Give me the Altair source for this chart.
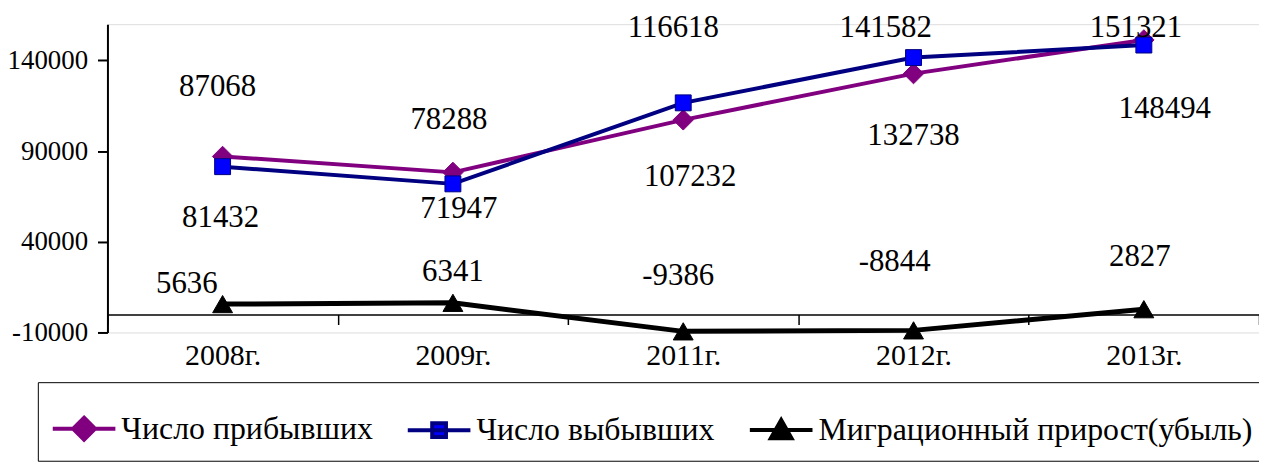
import altair as alt
import pandas as pd

# ---------------- data ----------------
years = ["2008г.", "2009г.", "2011г.", "2012г.", "2013г."]
arrived = [87068, 78288, 107232, 132738, 151321]
departed = [81432, 71947, 116618, 141582, 148494]
migration = [5636, 6341, -9386, -8844, 2827]
series_names = ["Число прибывших", "Число выбывших", "Миграционный прирост(убыль)"]
y_ticks = [-10000, 40000, 90000, 140000]

# ---------------- layout / style ----------------
line_colors = ["#800080", "#000080", "#000000"]
fill_colors = ["#800080", "#0000FF", "#000000"]
shapes = ["diamond", "square", "triangle-up"]
marker_sizes = [420, 256, 400]
line_widths = [4, 4, 5]
# data-label offsets in pixels (dx, dy) per series / year
label_dx = [[-5, -4, 7, 0, -8], [-2, 6, -10, -28, 21], [-36, 0, -5, -19, -4]]
label_dy = [[-70, -53, 57, 63, -12], [52, 25, -75, -30, 64], [-20, -31, -56, -69, -52]]
legend_paths = [
    "M-1,0L1,0M0,-0.35L0.35,0L0,0.35L-0.35,0Z",
    "M-1,0L1,0M-0.22,-0.22L0.22,-0.22L0.22,0.22L-0.22,0.22Z",
    "M-1,0L1,0M0,-0.32L0.33,0.26L-0.33,0.26Z",
]
FONT = "Liberation Serif"

values = [arrived, departed, migration]
rows = []
for si, name in enumerate(series_names):
    for yi, yr in enumerate(years):
        v = values[si][yi]
        rows.append({"year": yr, "series": name, "value": v, "label": str(v)})
df = pd.DataFrame(rows)

x_enc = alt.X(
    "year:N",
    sort=years,
    scale=alt.Scale(type="band", domain=years, paddingInner=0, paddingOuter=0),
    axis=alt.Axis(
        title=None, orient="bottom", offset=-18, labelAngle=0,
        domainColor="black", domainWidth=1.5,
        tickColor="black", tickWidth=1.5, tickSize=10, tickBand="extent",
        labelFont=FONT, labelFontSize=30, labelColor="black", labelPadding=16,
        grid=False,
    ),
)
y_enc = alt.Y(
    "value:Q",
    scale=alt.Scale(domain=[-10000, 160000], nice=False, zero=False),
    axis=alt.Axis(
        title=None, values=y_ticks, labelExpr="'' + datum.value",
        domainColor="black", domainWidth=2,
        tickColor="black", tickWidth=2, tickSize=10,
        labelFont=FONT, labelFontSize=27, labelColor="black", labelPadding=10,
        grid=False,
    ),
)

layers = []
for si, name in enumerate(series_names):
    sd = df[df["series"] == name]
    layers.append(
        alt.Chart(sd).mark_line(strokeWidth=line_widths[si], color=line_colors[si]).encode(x=x_enc, y=y_enc)
    )
for si, name in enumerate(series_names):
    sd = df[df["series"] == name]
    layers.append(
        alt.Chart(sd).mark_point(
            shape=shapes[si], size=marker_sizes[si], filled=True, opacity=1,
            fill=fill_colors[si], stroke=line_colors[si], strokeWidth=1,
        ).encode(x=x_enc, y=y_enc)
    )
for si, name in enumerate(series_names):
    for yi, yr in enumerate(years):
        sd = df[(df["series"] == name) & (df["year"] == yr)]
        layers.append(
            alt.Chart(sd).mark_text(
                font=FONT, fontSize=31, color="black", align="center", baseline="middle",
                dx=label_dx[si][yi], dy=label_dy[si][yi],
            ).encode(x=x_enc, y=y_enc, text="label:N")
        )

leg = alt.Legend(
    orient="none", legendX=-70, legendY=360, direction="horizontal",
    title=None,
    padding=13, strokeColor="black", fillColor="white",
    labelFont=FONT, labelFontSize=32, labelColor="black", labelLimit=0, labelOffset=4,
    symbolSize=3969, symbolStrokeWidth=4, columnPadding=27,
)
legend_layer = alt.Chart(pd.DataFrame({"series": series_names})).mark_point(
    filled=True, opacity=1
).encode(
    shape=alt.Shape("series:N", scale=alt.Scale(domain=series_names, range=legend_paths), legend=leg),
    fill=alt.Fill("series:N", scale=alt.Scale(domain=series_names, range=fill_colors), legend=leg),
    stroke=alt.Stroke("series:N", scale=alt.Scale(domain=series_names, range=line_colors), legend=leg),
).transform_filter("false")

chart = alt.layer(*layers, legend_layer).properties(
    width=1158, height=310,
    autosize=alt.AutoSizeParams(type="none"),
    padding={"left": 100, "top": 15, "right": 0, "bottom": 131},
).configure_view(stroke=None).configure(background="white")

chart.save("out.html", embed_options={"renderer": "svg", "actions": False})
